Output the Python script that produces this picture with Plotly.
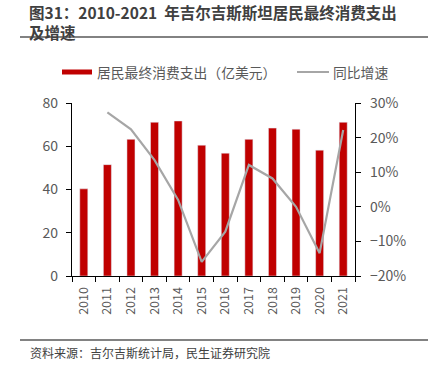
import plotly.graph_objects as go

years = ["2010", "2011", "2012", "2013", "2014", "2015", "2016", "2017", "2018", "2019", "2020", "2021"]
consumption = [40.3, 51.5, 63.2, 71.1, 71.7, 60.5, 56.8, 63.2, 68.4, 67.9, 58.2, 71.1]
growth_years = years[1:]
growth = [0.273, 0.224, 0.135, 0.02, -0.159, -0.072, 0.121, 0.082, 0.0, -0.134, 0.222]

FONT = "Noto Sans CJK SC"
TICKC = "#595959"
W, H = 429, 374
# plot area in page pixels: x 72..355, y 103..276
L, R, T, B = 72, 429 - 355, 103, 374 - 276

fig = go.Figure()
fig.add_trace(go.Bar(x=years, y=consumption, marker_color="#C00000", width=0.34,
                     name="居民最终消费支出（亿美元）", showlegend=False))
fig.add_trace(go.Scatter(x=growth_years, y=growth, yaxis="y2", mode="lines",
                         line=dict(color="#A6A6A6", width=2.2), name="同比增速",
                         showlegend=False))

def px(x): return (x - L) / (W - L - R)
def py(y): return (H - B - y) / (H - T - B)

shapes = [
    dict(type="line", xref="paper", yref="paper", x0=px(20), x1=px(428), y0=py(37), y1=py(37),
         line=dict(color="#595959", width=1.5)),
    dict(type="line", xref="paper", yref="paper", x0=px(20), x1=px(428), y0=py(340), y1=py(340),
         line=dict(color="#595959", width=1.5)),
    dict(type="rect", xref="paper", yref="paper", x0=px(62), x1=px(92), y0=py(74.5), y1=py(69.5),
         fillcolor="#C00000", line=dict(width=0)),
    dict(type="line", xref="paper", yref="paper", x0=px(297), x1=px(329), y0=py(72), y1=py(72),
         line=dict(color="#A6A6A6", width=2)),
]
annotations = [
    dict(text="<b>图31：2010-2021  年吉尔吉斯斯坦居民最终消费支出</b><br><b>及增速</b>",
         xref="paper", yref="paper", align="left",
         x=px(28), y=py(0), xanchor="left", yanchor="top", showarrow=False,
         borderpad=0,
         font=dict(family=FONT, size=15.5, color="#404040")),
    dict(text="居民最终消费支出（亿美元）", xref="paper", yref="paper",
         x=px(95), y=py(72), xanchor="left", yanchor="middle", showarrow=False,
         font=dict(family=FONT, size=13.8, color=TICKC)),
    dict(text="同比增速", xref="paper", yref="paper",
         x=px(331), y=py(72), xanchor="left", yanchor="middle", showarrow=False,
         font=dict(family=FONT, size=13.8, color=TICKC)),
    dict(text="资料来源：吉尔吉斯统计局，民生证券研究院", xref="paper", yref="paper",
         x=px(28), y=py(352), xanchor="left", yanchor="middle", showarrow=False,
         font=dict(family=FONT, size=12, color="#404040")),
]

fig.update_layout(
    width=W, height=H,
    margin=dict(l=L, r=R, t=T, b=B),
    paper_bgcolor="white", plot_bgcolor="white",
    font=dict(family=FONT, color=TICKC, size=13),
    showlegend=False,
    shapes=shapes, annotations=annotations,
    xaxis=dict(type="category", tickangle=-90, showline=True, linecolor="black", linewidth=1.2,
               ticks="outside", tickson="boundaries", ticklen=5, tickcolor="black",
               ticklabelstandoff=5,
               showgrid=False, tickfont=dict(size=12.5, color=TICKC)),
    yaxis=dict(range=[0, 80], dtick=20, showline=True, linecolor="black", linewidth=1.2,
               ticks="outside", ticklen=5, tickcolor="black", showgrid=False, zeroline=False,
               ticklabelstandoff=5,
               tickfont=dict(size=14, color=TICKC)),
    yaxis2=dict(range=[-0.2, 0.3], dtick=0.1, tickformat=".0%", overlaying="y", side="right",
                showline=True, linecolor="black", linewidth=1.2, ticks="outside", ticklen=5,
                tickcolor="black", showgrid=False, zeroline=False, ticklabelstandoff=6,
                tickfont=dict(size=14, color=TICKC)),
)

fig.write_html("out.html", config={"displayModeBar": False},
               post_script="document.body.style.margin='0';document.body.style.overflow='hidden';")
